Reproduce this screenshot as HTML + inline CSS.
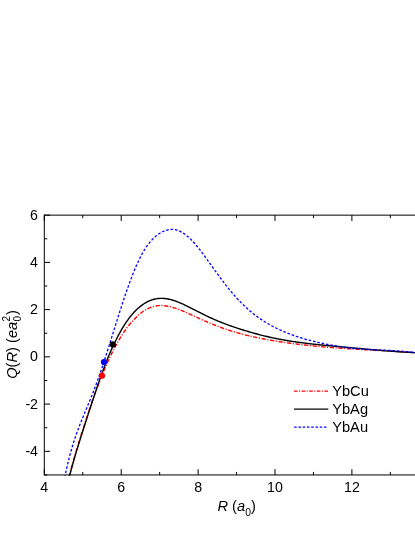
<!DOCTYPE html>
<html><head><meta charset="utf-8">
<style>
html,body{margin:0;padding:0;background:#fff;}
body{width:415px;height:537px;overflow:hidden;}
svg{display:block;will-change:transform;}
text{font-family:"Liberation Sans",sans-serif;fill:#000;}
</style></head><body>
<svg width="415" height="537" viewBox="0 0 415 537">
<defs><clipPath id="c"><rect x="44" y="214" width="372" height="261.45"/></clipPath></defs>
<rect width="415" height="537" fill="#fff"/>
<g fill="none" stroke-linejoin="round" clip-path="url(#c)">
<path d="M68.75 477.23 L69.25 475.39 L69.75 473.57 L70.25 471.76 L70.75 469.96 L71.25 468.17 L71.75 466.40 L72.25 464.63 L72.75 462.88 L73.25 461.13 L73.75 459.40 L74.25 457.68 L74.75 455.97 L75.25 454.26 L75.75 452.57 L76.25 450.89 L76.75 449.21 L77.25 447.55 L77.75 445.89 L78.25 444.24 L78.75 442.60 L79.25 440.97 L79.75 439.35 L80.25 437.73 L80.75 436.13 L81.25 434.53 L81.75 432.94 L82.25 431.36 L82.75 429.79 L83.25 428.22 L83.75 426.66 L84.25 425.11 L84.75 423.57 L85.25 422.03 L85.75 420.51 L86.25 418.99 L86.75 417.47 L87.25 415.97 L87.75 414.47 L88.25 412.98 L88.75 411.50 L89.25 410.03 L89.75 408.56 L90.25 407.10 L90.75 405.65 L91.25 404.21 L91.75 402.78 L92.25 401.35 L92.75 399.94 L93.25 398.53 L93.75 397.13 L94.25 395.73 L94.75 394.35 L95.25 392.98 L95.75 391.61 L96.25 390.26 L96.75 388.91 L97.25 387.57 L97.75 386.25 L98.25 384.93 L98.75 383.62 L99.25 382.33 L99.75 381.04 L100.25 379.76 L100.75 378.50 L101.25 377.24 L101.75 375.99 L102.25 374.76 L102.75 373.54 L103.25 372.32 L103.75 371.12 L104.25 369.93 L104.75 368.75 L105.25 367.58 L105.75 366.42 L106.25 365.28 L106.75 364.14 L107.25 363.02 L107.75 361.91 L108.25 360.81 L108.75 359.72 L109.25 358.64 L109.75 357.58 L110.25 356.52 L110.75 355.48 L111.25 354.45 L111.75 353.43 L112.25 352.42 L112.75 351.43 L113.25 350.45 L113.75 349.47 L114.25 348.51 L114.75 347.56 L115.25 346.63 L115.75 345.70 L116.25 344.79 L116.75 343.88 L117.25 342.99 L117.75 342.11 L118.25 341.25 L118.75 340.39 L119.25 339.54 L119.75 338.71 L120.25 337.89 L120.75 337.08 L121.25 336.27 L121.75 335.49 L122.25 334.71 L122.75 333.94 L123.25 333.18 L123.75 332.43 L124.25 331.70 L124.75 330.97 L125.25 330.26 L125.75 329.56 L126.25 328.86 L126.75 328.18 L127.25 327.51 L127.75 326.84 L128.25 326.19 L128.75 325.55 L129.25 324.92 L129.75 324.30 L130.00 323.99 L131.00 322.79 L132.00 321.63 L133.00 320.51 L134.00 319.43 L135.00 318.39 L136.00 317.39 L137.00 316.43 L138.00 315.51 L139.00 314.63 L140.00 313.79 L141.00 312.99 L142.00 312.24 L143.00 311.52 L144.00 310.84 L145.00 310.21 L146.00 309.61 L147.00 309.06 L148.00 308.55 L149.00 308.08 L150.00 307.65 L151.00 307.26 L152.00 306.92 L153.00 306.61 L154.00 306.35 L155.00 306.12 L156.00 305.93 L157.00 305.78 L158.00 305.67 L159.00 305.59 L160.00 305.55 L161.00 305.54 L162.00 305.56 L163.00 305.61 L164.00 305.69 L165.00 305.80 L166.00 305.94 L167.00 306.09 L168.00 306.28 L169.00 306.48 L170.00 306.71 L171.00 306.96 L172.00 307.22 L173.00 307.51 L174.00 307.81 L175.00 308.13 L176.00 308.46 L177.00 308.81 L178.00 309.17 L179.00 309.54 L180.00 309.92 L181.00 310.32 L182.00 310.72 L183.00 311.13 L184.00 311.55 L185.00 311.98 L186.00 312.41 L187.00 312.85 L188.00 313.29 L189.00 313.74 L190.00 314.20 L191.00 314.65 L192.00 315.11 L193.00 315.57 L194.00 316.03 L195.00 316.49 L196.00 316.95 L197.00 317.41 L198.00 317.87 L199.00 318.33 L200.00 318.79 L201.00 319.25 L202.00 319.70 L203.00 320.15 L204.00 320.60 L205.00 321.04 L206.00 321.48 L207.00 321.92 L208.00 322.35 L209.00 322.78 L210.00 323.20 L211.00 323.62 L212.00 324.03 L213.00 324.44 L214.00 324.84 L215.00 325.24 L216.00 325.63 L217.00 326.02 L218.00 326.40 L219.00 326.78 L220.00 327.15 L221.00 327.51 L222.00 327.87 L223.00 328.22 L224.00 328.57 L225.00 328.92 L226.00 329.26 L227.00 329.59 L228.00 329.92 L229.00 330.24 L230.00 330.56 L231.00 330.88 L232.00 331.19 L233.00 331.49 L234.00 331.79 L235.00 332.09 L236.00 332.38 L237.00 332.67 L238.00 332.95 L239.00 333.23 L240.00 333.50 L241.00 333.77 L242.00 334.04 L243.00 334.30 L244.00 334.56 L245.00 334.82 L246.00 335.07 L247.00 335.31 L248.00 335.56 L249.00 335.79 L250.00 336.03 L251.00 336.26 L252.00 336.49 L253.00 336.72 L254.00 336.94 L255.00 337.16 L256.00 337.37 L257.00 337.59 L258.00 337.80 L259.00 338.00 L260.00 338.21 L261.00 338.41 L262.00 338.60 L263.00 338.80 L264.00 338.99 L265.00 339.18 L266.00 339.37 L267.00 339.55 L268.00 339.74 L269.00 339.92 L270.00 340.09 L271.00 340.27 L272.00 340.44 L273.00 340.61 L274.00 340.78 L275.00 340.94 L276.00 341.11 L277.00 341.27 L278.00 341.43 L279.00 341.58 L280.00 341.74 L281.00 341.89 L282.00 342.04 L283.00 342.19 L284.00 342.34 L285.00 342.49 L286.00 342.63 L287.00 342.77 L288.00 342.91 L289.00 343.05 L290.00 343.19 L291.00 343.32 L292.00 343.46 L293.00 343.59 L294.00 343.72 L295.00 343.85 L296.00 343.97 L297.00 344.10 L298.00 344.22 L299.00 344.34 L300.00 344.46 L301.00 344.58 L302.00 344.70 L303.00 344.82 L304.00 344.93 L305.00 345.04 L306.00 345.15 L307.00 345.26 L308.00 345.37 L309.00 345.48 L310.00 345.59 L311.00 345.69 L312.00 345.79 L313.00 345.89 L314.00 345.99 L315.00 346.09 L316.00 346.19 L317.00 346.29 L318.00 346.38 L319.00 346.47 L320.00 346.57 L321.00 346.66 L322.00 346.75 L323.00 346.84 L324.00 346.92 L325.00 347.01 L326.00 347.09 L327.00 347.18 L328.00 347.26 L329.00 347.34 L330.00 347.42 L331.00 347.50 L332.00 347.58 L333.00 347.66 L334.00 347.73 L335.00 347.81 L336.00 347.88 L337.00 347.96 L338.00 348.03 L339.00 348.10 L340.00 348.17 L341.00 348.24 L342.00 348.31 L343.00 348.38 L344.00 348.44 L345.00 348.51 L346.00 348.57 L347.00 348.64 L348.00 348.70 L349.00 348.77 L350.00 348.83 L351.00 348.89 L352.00 348.95 L353.00 349.01 L354.00 349.07 L355.00 349.13 L356.00 349.19 L357.00 349.25 L358.00 349.31 L359.00 349.37 L360.00 349.42 L361.00 349.48 L362.00 349.54 L363.00 349.59 L364.00 349.65 L365.00 349.70 L366.00 349.76 L367.00 349.81 L368.00 349.87 L369.00 349.92 L370.00 349.98 L371.00 350.03 L372.00 350.09 L373.00 350.14 L374.00 350.19 L375.00 350.25 L376.00 350.30 L377.00 350.36 L378.00 350.41 L379.00 350.46 L380.00 350.52 L381.00 350.57 L382.00 350.63 L383.00 350.68 L384.00 350.74 L385.00 350.79 L386.00 350.85 L387.00 350.91 L388.00 350.96 L389.00 351.02 L390.00 351.08 L391.00 351.14 L392.00 351.19 L393.00 351.25 L394.00 351.31 L395.00 351.37 L396.00 351.43 L397.00 351.50 L398.00 351.56 L399.00 351.62 L400.00 351.69 L401.00 351.75 L402.00 351.82 L403.00 351.88 L404.00 351.95 L405.00 352.02 L406.00 352.09 L407.00 352.16 L408.00 352.23 L409.00 352.31 L410.00 352.38 L411.00 352.46 L412.00 352.53 L413.00 352.61 L414.00 352.69 L415.00 352.77 L416.00 352.85 L417.00 352.94 L418.00 353.02 L419.00 353.11 L420.00 353.20" stroke="#ff0000" stroke-width="1.4" stroke-dasharray="4.3 1.55 1.1 1.65"/>
<path d="M69.25 477.30 L69.75 475.34 L70.25 473.41 L70.75 471.51 L71.25 469.64 L71.75 467.79 L72.25 465.96 L72.75 464.16 L73.25 462.38 L73.75 460.62 L74.25 458.88 L74.75 457.16 L75.25 455.45 L75.75 453.76 L76.25 452.08 L76.75 450.42 L77.25 448.77 L77.75 447.13 L78.25 445.50 L78.75 443.88 L79.25 442.27 L79.75 440.66 L80.25 439.07 L80.75 437.48 L81.25 435.90 L81.75 434.32 L82.25 432.74 L82.75 431.18 L83.25 429.61 L83.75 428.05 L84.25 426.49 L84.75 424.94 L85.25 423.38 L85.75 421.83 L86.25 420.28 L86.75 418.73 L87.25 417.19 L87.75 415.64 L88.25 414.10 L88.75 412.56 L89.25 411.02 L89.75 409.48 L90.25 407.94 L90.75 406.41 L91.25 404.87 L91.75 403.34 L92.25 401.81 L92.75 400.29 L93.25 398.77 L93.75 397.25 L94.25 395.73 L94.75 394.22 L95.25 392.72 L95.75 391.22 L96.25 389.73 L96.75 388.25 L97.25 386.77 L97.75 385.30 L98.25 383.84 L98.75 382.39 L99.25 380.95 L99.75 379.52 L100.25 378.10 L100.75 376.69 L101.25 375.29 L101.75 373.91 L102.25 372.53 L102.75 371.17 L103.25 369.82 L103.75 368.48 L104.25 367.16 L104.75 365.84 L105.25 364.55 L105.75 363.26 L106.25 361.99 L106.75 360.73 L107.25 359.49 L107.75 358.26 L108.25 357.04 L108.75 355.84 L109.25 354.65 L109.75 353.47 L110.25 352.31 L110.75 351.16 L111.25 350.03 L111.75 348.91 L112.25 347.81 L112.75 346.71 L113.25 345.63 L113.75 344.57 L114.25 343.52 L114.75 342.48 L115.25 341.45 L115.75 340.44 L116.25 339.44 L116.75 338.46 L117.25 337.49 L117.75 336.53 L118.25 335.58 L118.75 334.65 L119.25 333.73 L119.75 332.82 L120.25 331.93 L120.75 331.04 L121.25 330.18 L121.75 329.32 L122.25 328.48 L122.75 327.65 L123.25 326.83 L123.75 326.03 L124.25 325.24 L124.75 324.46 L125.25 323.69 L125.75 322.94 L126.25 322.20 L126.75 321.47 L127.25 320.75 L127.75 320.05 L128.25 319.36 L128.75 318.68 L129.25 318.02 L129.75 317.36 L130.00 317.04 L131.00 315.78 L132.00 314.58 L133.00 313.42 L134.00 312.31 L135.00 311.25 L136.00 310.23 L137.00 309.26 L138.00 308.34 L139.00 307.46 L140.00 306.63 L141.00 305.84 L142.00 305.09 L143.00 304.39 L144.00 303.73 L145.00 303.11 L146.00 302.53 L147.00 301.99 L148.00 301.49 L149.00 301.03 L150.00 300.60 L151.00 300.22 L152.00 299.87 L153.00 299.55 L154.00 299.28 L155.00 299.04 L156.00 298.83 L157.00 298.67 L158.00 298.53 L159.00 298.43 L160.00 298.37 L161.00 298.34 L162.00 298.34 L163.00 298.37 L164.00 298.44 L165.00 298.53 L166.00 298.66 L167.00 298.81 L168.00 298.99 L169.00 299.20 L170.00 299.43 L171.00 299.68 L172.00 299.96 L173.00 300.26 L174.00 300.58 L175.00 300.92 L176.00 301.27 L177.00 301.65 L178.00 302.04 L179.00 302.44 L180.00 302.85 L181.00 303.28 L182.00 303.72 L183.00 304.17 L184.00 304.63 L185.00 305.10 L186.00 305.58 L187.00 306.06 L188.00 306.55 L189.00 307.05 L190.00 307.55 L191.00 308.05 L192.00 308.56 L193.00 309.07 L194.00 309.58 L195.00 310.09 L196.00 310.61 L197.00 311.12 L198.00 311.63 L199.00 312.14 L200.00 312.65 L201.00 313.16 L202.00 313.66 L203.00 314.16 L204.00 314.66 L205.00 315.15 L206.00 315.64 L207.00 316.13 L208.00 316.60 L209.00 317.08 L210.00 317.54 L211.00 318.00 L212.00 318.46 L213.00 318.91 L214.00 319.35 L215.00 319.78 L216.00 320.21 L217.00 320.64 L218.00 321.06 L219.00 321.47 L220.00 321.87 L221.00 322.27 L222.00 322.67 L223.00 323.06 L224.00 323.44 L225.00 323.82 L226.00 324.19 L227.00 324.56 L228.00 324.93 L229.00 325.29 L230.00 325.65 L231.00 326.00 L232.00 326.35 L233.00 326.69 L234.00 327.04 L235.00 327.37 L236.00 327.71 L237.00 328.04 L238.00 328.37 L239.00 328.70 L240.00 329.02 L241.00 329.34 L242.00 329.65 L243.00 329.97 L244.00 330.27 L245.00 330.58 L246.00 330.89 L247.00 331.19 L248.00 331.48 L249.00 331.78 L250.00 332.07 L251.00 332.36 L252.00 332.65 L253.00 332.93 L254.00 333.21 L255.00 333.48 L256.00 333.76 L257.00 334.03 L258.00 334.29 L259.00 334.56 L260.00 334.82 L261.00 335.07 L262.00 335.32 L263.00 335.57 L264.00 335.82 L265.00 336.06 L266.00 336.30 L267.00 336.54 L268.00 336.77 L269.00 337.00 L270.00 337.22 L271.00 337.45 L272.00 337.67 L273.00 337.88 L274.00 338.09 L275.00 338.30 L276.00 338.51 L277.00 338.71 L278.00 338.91 L279.00 339.10 L280.00 339.29 L281.00 339.48 L282.00 339.67 L283.00 339.85 L284.00 340.03 L285.00 340.20 L286.00 340.38 L287.00 340.55 L288.00 340.71 L289.00 340.88 L290.00 341.04 L291.00 341.20 L292.00 341.35 L293.00 341.50 L294.00 341.65 L295.00 341.80 L296.00 341.94 L297.00 342.09 L298.00 342.23 L299.00 342.36 L300.00 342.50 L301.00 342.63 L302.00 342.76 L303.00 342.89 L304.00 343.02 L305.00 343.14 L306.00 343.27 L307.00 343.39 L308.00 343.51 L309.00 343.62 L310.00 343.74 L311.00 343.85 L312.00 343.97 L313.00 344.08 L314.00 344.19 L315.00 344.30 L316.00 344.41 L317.00 344.51 L318.00 344.62 L319.00 344.72 L320.00 344.83 L321.00 344.93 L322.00 345.03 L323.00 345.13 L324.00 345.23 L325.00 345.33 L326.00 345.43 L327.00 345.53 L328.00 345.63 L329.00 345.72 L330.00 345.82 L331.00 345.91 L332.00 346.01 L333.00 346.10 L334.00 346.20 L335.00 346.29 L336.00 346.38 L337.00 346.48 L338.00 346.57 L339.00 346.66 L340.00 346.75 L341.00 346.84 L342.00 346.93 L343.00 347.03 L344.00 347.12 L345.00 347.21 L346.00 347.30 L347.00 347.39 L348.00 347.48 L349.00 347.57 L350.00 347.66 L351.00 347.75 L352.00 347.84 L353.00 347.93 L354.00 348.02 L355.00 348.11 L356.00 348.20 L357.00 348.28 L358.00 348.37 L359.00 348.46 L360.00 348.55 L361.00 348.64 L362.00 348.73 L363.00 348.82 L364.00 348.91 L365.00 349.00 L366.00 349.08 L367.00 349.17 L368.00 349.26 L369.00 349.35 L370.00 349.44 L371.00 349.52 L372.00 349.61 L373.00 349.70 L374.00 349.78 L375.00 349.87 L376.00 349.96 L377.00 350.04 L378.00 350.13 L379.00 350.21 L380.00 350.30 L381.00 350.38 L382.00 350.46 L383.00 350.55 L384.00 350.63 L385.00 350.71 L386.00 350.79 L387.00 350.87 L388.00 350.95 L389.00 351.03 L390.00 351.11 L391.00 351.19 L392.00 351.26 L393.00 351.34 L394.00 351.41 L395.00 351.48 L396.00 351.56 L397.00 351.63 L398.00 351.70 L399.00 351.77 L400.00 351.83 L401.00 351.90 L402.00 351.96 L403.00 352.03 L404.00 352.09 L405.00 352.15 L406.00 352.21 L407.00 352.26 L408.00 352.32 L409.00 352.37 L410.00 352.42 L411.00 352.47 L412.00 352.52 L413.00 352.56 L414.00 352.60 L415.00 352.64 L416.00 352.68 L417.00 352.72 L418.00 352.75 L419.00 352.78 L420.00 352.80" stroke="#000" stroke-width="1.4"/>
<path d="M64.75 477.49 L65.25 475.02 L65.75 472.63 L66.25 470.30 L66.75 468.04 L67.25 465.84 L67.75 463.70 L68.25 461.62 L68.75 459.60 L69.25 457.62 L69.75 455.70 L70.25 453.83 L70.75 452.01 L71.25 450.23 L71.75 448.49 L72.25 446.80 L72.75 445.14 L73.25 443.53 L73.75 441.94 L74.25 440.39 L74.75 438.88 L75.25 437.39 L75.75 435.93 L76.25 434.50 L76.75 433.09 L77.25 431.71 L77.75 430.35 L78.25 429.00 L78.75 427.68 L79.25 426.37 L79.75 425.08 L80.25 423.81 L80.75 422.54 L81.25 421.29 L81.75 420.05 L82.25 418.82 L82.75 417.60 L83.25 416.38 L83.75 415.17 L84.25 413.96 L84.75 412.75 L85.25 411.55 L85.75 410.35 L86.25 409.15 L86.75 407.95 L87.25 406.74 L87.75 405.54 L88.25 404.33 L88.75 403.12 L89.25 401.90 L89.75 400.67 L90.25 399.44 L90.75 398.20 L91.25 396.96 L91.75 395.71 L92.25 394.44 L92.75 393.17 L93.25 391.89 L93.75 390.60 L94.25 389.30 L94.75 387.98 L95.25 386.66 L95.75 385.33 L96.25 383.98 L96.75 382.62 L97.25 381.25 L97.75 379.87 L98.25 378.47 L98.75 377.06 L99.25 375.65 L99.75 374.21 L100.25 372.77 L100.75 371.32 L101.25 369.85 L101.75 368.38 L102.25 366.89 L102.75 365.39 L103.25 363.88 L103.75 362.36 L104.25 360.84 L104.75 359.30 L105.25 357.76 L105.75 356.20 L106.25 354.64 L106.75 353.08 L107.25 351.51 L107.75 349.93 L108.25 348.35 L108.75 346.76 L109.25 345.17 L109.75 343.58 L110.25 341.98 L110.75 340.38 L111.25 338.78 L111.75 337.18 L112.25 335.57 L112.75 333.97 L113.25 332.37 L113.75 330.77 L114.25 329.16 L114.75 327.57 L115.25 325.97 L115.75 324.37 L116.25 322.78 L116.75 321.19 L117.25 319.60 L117.75 318.02 L118.25 316.45 L118.75 314.87 L119.25 313.31 L119.75 311.75 L120.25 310.19 L120.75 308.64 L121.25 307.10 L121.75 305.57 L122.25 304.04 L122.75 302.52 L123.25 301.01 L123.75 299.51 L124.25 298.01 L124.75 296.53 L125.25 295.06 L125.75 293.59 L126.25 292.14 L126.75 290.70 L127.25 289.27 L127.75 287.85 L128.25 286.44 L128.75 285.05 L129.25 283.67 L129.75 282.30 L130.00 281.62 L131.00 278.94 L132.00 276.32 L133.00 273.77 L134.00 271.28 L135.00 268.85 L136.00 266.50 L137.00 264.23 L138.00 262.03 L139.00 259.92 L140.00 257.88 L141.00 255.93 L142.00 254.06 L143.00 252.28 L144.00 250.58 L145.00 248.97 L146.00 247.44 L147.00 245.98 L148.00 244.61 L149.00 243.31 L150.00 242.09 L151.00 240.93 L152.00 239.84 L153.00 238.82 L154.00 237.85 L155.00 236.94 L156.00 236.09 L157.00 235.28 L158.00 234.53 L159.00 233.83 L160.00 233.18 L161.00 232.58 L162.00 232.03 L163.00 231.53 L164.00 231.08 L165.00 230.68 L166.00 230.33 L167.00 230.03 L168.00 229.79 L169.00 229.60 L170.00 229.47 L171.00 229.39 L172.00 229.38 L173.00 229.42 L174.00 229.51 L175.00 229.67 L176.00 229.89 L177.00 230.16 L178.00 230.49 L179.00 230.87 L180.00 231.32 L181.00 231.81 L182.00 232.36 L183.00 232.97 L184.00 233.62 L185.00 234.33 L186.00 235.09 L187.00 235.89 L188.00 236.74 L189.00 237.64 L190.00 238.58 L191.00 239.56 L192.00 240.58 L193.00 241.64 L194.00 242.73 L195.00 243.87 L196.00 245.03 L197.00 246.22 L198.00 247.45 L199.00 248.70 L200.00 249.97 L201.00 251.27 L202.00 252.58 L203.00 253.92 L204.00 255.26 L205.00 256.63 L206.00 258.00 L207.00 259.38 L208.00 260.77 L209.00 262.16 L210.00 263.56 L211.00 264.96 L212.00 266.36 L213.00 267.76 L214.00 269.16 L215.00 270.55 L216.00 271.94 L217.00 273.32 L218.00 274.70 L219.00 276.06 L220.00 277.42 L221.00 278.76 L222.00 280.10 L223.00 281.42 L224.00 282.73 L225.00 284.03 L226.00 285.31 L227.00 286.58 L228.00 287.83 L229.00 289.07 L230.00 290.29 L231.00 291.49 L232.00 292.68 L233.00 293.85 L234.00 295.01 L235.00 296.14 L236.00 297.26 L237.00 298.36 L238.00 299.44 L239.00 300.51 L240.00 301.55 L241.00 302.58 L242.00 303.59 L243.00 304.58 L244.00 305.55 L245.00 306.50 L246.00 307.43 L247.00 308.35 L248.00 309.25 L249.00 310.13 L250.00 310.99 L251.00 311.83 L252.00 312.65 L253.00 313.46 L254.00 314.25 L255.00 315.03 L256.00 315.78 L257.00 316.53 L258.00 317.25 L259.00 317.96 L260.00 318.66 L261.00 319.34 L262.00 320.01 L263.00 320.66 L264.00 321.30 L265.00 321.93 L266.00 322.54 L267.00 323.14 L268.00 323.73 L269.00 324.31 L270.00 324.87 L271.00 325.43 L272.00 325.97 L273.00 326.50 L274.00 327.02 L275.00 327.53 L276.00 328.03 L277.00 328.52 L278.00 329.01 L279.00 329.48 L280.00 329.94 L281.00 330.39 L282.00 330.84 L283.00 331.27 L284.00 331.70 L285.00 332.12 L286.00 332.53 L287.00 332.94 L288.00 333.33 L289.00 333.72 L290.00 334.10 L291.00 334.48 L292.00 334.84 L293.00 335.21 L294.00 335.56 L295.00 335.91 L296.00 336.25 L297.00 336.58 L298.00 336.91 L299.00 337.24 L300.00 337.55 L301.00 337.87 L302.00 338.17 L303.00 338.47 L304.00 338.77 L305.00 339.06 L306.00 339.34 L307.00 339.62 L308.00 339.90 L309.00 340.17 L310.00 340.43 L311.00 340.69 L312.00 340.95 L313.00 341.20 L314.00 341.45 L315.00 341.69 L316.00 341.93 L317.00 342.17 L318.00 342.40 L319.00 342.62 L320.00 342.85 L321.00 343.07 L322.00 343.28 L323.00 343.49 L324.00 343.70 L325.00 343.90 L326.00 344.10 L327.00 344.30 L328.00 344.49 L329.00 344.68 L330.00 344.87 L331.00 345.05 L332.00 345.23 L333.00 345.40 L334.00 345.57 L335.00 345.74 L336.00 345.91 L337.00 346.07 L338.00 346.23 L339.00 346.38 L340.00 346.53 L341.00 346.68 L342.00 346.82 L343.00 346.96 L344.00 347.10 L345.00 347.23 L346.00 347.36 L347.00 347.49 L348.00 347.61 L349.00 347.73 L350.00 347.85 L351.00 347.96 L352.00 348.07 L353.00 348.18 L354.00 348.28 L355.00 348.38 L356.00 348.48 L357.00 348.57 L358.00 348.66 L359.00 348.75 L360.00 348.83 L361.00 348.92 L362.00 348.99 L363.00 349.07 L364.00 349.14 L365.00 349.21 L366.00 349.28 L367.00 349.35 L368.00 349.41 L369.00 349.47 L370.00 349.53 L371.00 349.59 L372.00 349.65 L373.00 349.70 L374.00 349.75 L375.00 349.81 L376.00 349.86 L377.00 349.90 L378.00 349.95 L379.00 350.00 L380.00 350.04 L381.00 350.09 L382.00 350.13 L383.00 350.18 L384.00 350.22 L385.00 350.27 L386.00 350.31 L387.00 350.36 L388.00 350.40 L389.00 350.45 L390.00 350.50 L391.00 350.54 L392.00 350.59 L393.00 350.65 L394.00 350.70 L395.00 350.75 L396.00 350.81 L397.00 350.87 L398.00 350.93 L399.00 351.00 L400.00 351.06 L401.00 351.14 L402.00 351.21 L403.00 351.29 L404.00 351.37 L405.00 351.46 L406.00 351.55 L407.00 351.65 L408.00 351.75 L409.00 351.86 L410.00 351.97 L411.00 352.09 L412.00 352.21 L413.00 352.34 L414.00 352.48 L415.00 352.62 L416.00 352.78 L417.00 352.94 L418.00 353.10 L419.00 353.28 L420.00 353.46" stroke="#0000ff" stroke-width="1.3" stroke-dasharray="2.6 1.85"/>
</g>
<circle cx="101.9" cy="375.7" r="3.15" fill="#ff0000"/>
<circle cx="104" cy="362.1" r="3.15" fill="#0000ff"/>
<circle cx="112.8" cy="344.4" r="3.15" fill="#000"/>
<g stroke="#000" stroke-width="1" fill="none">
<path d="M44.3 474.95 H416 M44.3 215.15 H416 M44.3 214.65 V475.45"/>
<line x1="44.30" y1="474.95" x2="44.30" y2="469.15"/><line x1="44.30" y1="215.15" x2="44.30" y2="220.95"/><line x1="82.75" y1="474.95" x2="82.75" y2="471.95"/><line x1="82.75" y1="215.15" x2="82.75" y2="218.15"/><line x1="121.20" y1="474.95" x2="121.20" y2="469.15"/><line x1="121.20" y1="215.15" x2="121.20" y2="220.95"/><line x1="159.65" y1="474.95" x2="159.65" y2="471.95"/><line x1="159.65" y1="215.15" x2="159.65" y2="218.15"/><line x1="198.10" y1="474.95" x2="198.10" y2="469.15"/><line x1="198.10" y1="215.15" x2="198.10" y2="220.95"/><line x1="236.55" y1="474.95" x2="236.55" y2="471.95"/><line x1="236.55" y1="215.15" x2="236.55" y2="218.15"/><line x1="275.00" y1="474.95" x2="275.00" y2="469.15"/><line x1="275.00" y1="215.15" x2="275.00" y2="220.95"/><line x1="313.45" y1="474.95" x2="313.45" y2="471.95"/><line x1="313.45" y1="215.15" x2="313.45" y2="218.15"/><line x1="351.90" y1="474.95" x2="351.90" y2="469.15"/><line x1="351.90" y1="215.15" x2="351.90" y2="220.95"/><line x1="390.35" y1="474.95" x2="390.35" y2="471.95"/><line x1="390.35" y1="215.15" x2="390.35" y2="218.15"/><line x1="428.80" y1="474.95" x2="428.80" y2="469.15"/><line x1="428.80" y1="215.15" x2="428.80" y2="220.95"/><line x1="44.30" y1="474.95" x2="47.30" y2="474.95"/><line x1="44.30" y1="451.33" x2="50.10" y2="451.33"/><line x1="44.30" y1="427.71" x2="47.30" y2="427.71"/><line x1="44.30" y1="404.10" x2="50.10" y2="404.10"/><line x1="44.30" y1="380.48" x2="47.30" y2="380.48"/><line x1="44.30" y1="356.86" x2="50.10" y2="356.86"/><line x1="44.30" y1="333.24" x2="47.30" y2="333.24"/><line x1="44.30" y1="309.62" x2="50.10" y2="309.62"/><line x1="44.30" y1="286.01" x2="47.30" y2="286.01"/><line x1="44.30" y1="262.39" x2="50.10" y2="262.39"/><line x1="44.30" y1="238.77" x2="47.30" y2="238.77"/><line x1="44.30" y1="215.15" x2="50.10" y2="215.15"/>
</g>
<g font-size="14.2">
<text x="44.30" y="491.6" text-anchor="middle">4</text><text x="121.20" y="491.6" text-anchor="middle">6</text><text x="198.10" y="491.6" text-anchor="middle">8</text><text x="275.00" y="491.6" text-anchor="middle">10</text><text x="351.90" y="491.6" text-anchor="middle">12</text>
<text x="38.0" y="455.73" text-anchor="end">-4</text><text x="38.0" y="408.50" text-anchor="end">-2</text><text x="38.0" y="361.26" text-anchor="end">0</text><text x="38.0" y="314.02" text-anchor="end">2</text><text x="38.0" y="266.79" text-anchor="end">4</text><text x="38.0" y="219.55" text-anchor="end">6</text>
</g>
<g font-size="14.67">
<text x="332.2" y="396.3">YbCu</text>
<text x="332.2" y="414.3">YbAg</text>
<text x="332.2" y="432.3">YbAu</text>
</g>
<g fill="none">
<path d="M294 391.1 H328.3" stroke="#ff0000" stroke-width="1.4" stroke-dasharray="3.6 1.45 1 1.55"/>
<path d="M294 409.1 H328.3" stroke="#000" stroke-width="1.4"/>
<path d="M294.2 427.2 H326.8" stroke="#0000ff" stroke-width="1.3" stroke-dasharray="2.5 1.75"/>
</g>
<g font-size="14.67">
<text x="217.5" y="511.3" font-style="italic">R</text>
<text x="231.9" y="511.3">(</text>
<text x="237.0" y="511.3" font-style="italic">a</text>
<text x="245.2" y="515.6" font-size="10.4">0</text>
<text x="251.0" y="511.3">)</text>
</g>
<g font-size="14.67" transform="translate(16.85 378.8) rotate(-90)">
<text x="0" y="0" font-style="italic">Q</text>
<text x="11.41" y="0">(</text>
<text x="16.3" y="0" font-style="italic">R</text>
<text x="26.89" y="0">)</text>
<text x="35.85" y="0">(</text>
<text x="40.74" y="0" font-style="italic">ea</text>
<text x="57.4" y="4.15" font-size="10.1">0</text>
<text x="57.4" y="-6.9" font-size="10.1">2</text>
<text x="63.8" y="0">)</text>
</g>
</svg>
</body></html>
